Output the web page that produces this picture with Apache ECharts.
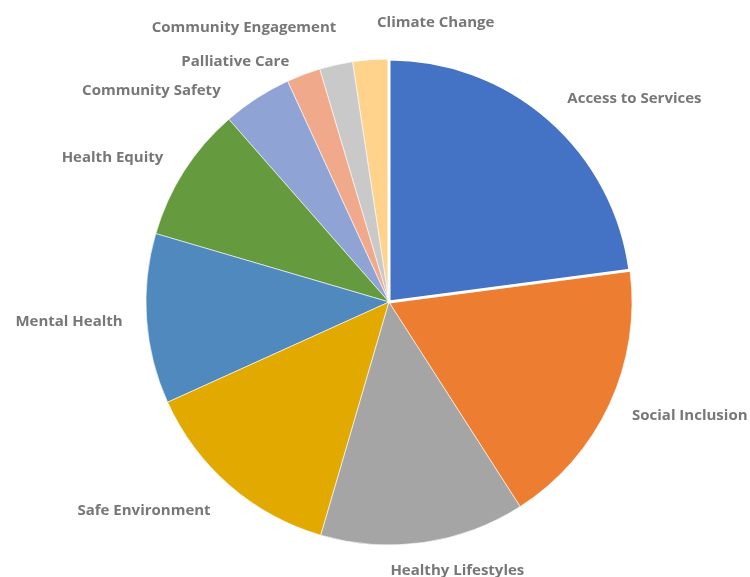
<!DOCTYPE html>
<html>
<head>
<meta charset="utf-8">
<script src="https://cdn.jsdelivr.net/npm/echarts@6/dist/echarts.min.js"></script>
<style>
  html, body { margin: 0; padding: 0; background: #fff; }
  #chart { width: 750px; height: 577px; }
</style>
</head>
<body>
<div id="chart"></div>
<script>
const CATEGORIES = [
  'Access to Services', 'Social Inclusion', 'Healthy Lifestyles', 'Safe Environment',
  'Mental Health', 'Health Equity', 'Community Safety', 'Palliative Care',
  'Community Engagement', 'Climate Change',
];
const VALUES = [22.9, 18.0, 13.6, 13.7, 11.3, 9.0, 4.6, 2.25, 2.2, 2.4];

const COLORS = ['#4472c4', '#ed7d31', '#a5a5a5', '#e2a900', '#4f89be', '#659b3e',
                '#8fa3d5', '#f0aa8b', '#c9c9c9', '#ffd38b'];

// small tweaks so the crowded labels sit where the original put them
const LABEL_SHIFT = [[1, -1], [-1, 0], [30, 2], [-2, 6], [2, 1], [1, 0],
                     [-22, 14], [-5, 12], [6, -12], [67, -11]];

const CX = 389, CY = 302, R = 243, GAP = 26;
const N = VALUES.length;

const total = VALUES.reduce((a, b) => a + b, 0);
const midAngles = [];
let acc = 0;
VALUES.forEach(v => {
  midAngles.push((acc + v / 2) / total * Math.PI * 2);
  acc += v;
});

// fed to the pie in reverse (counter-clockwise) so the first slice is drawn last
// and its white edge stays on top of both neighbours
const data = CATEGORIES.map((name, i) => ({
  name,
  value: VALUES[i],
  itemStyle: i === 0 ? { color: COLORS[i], borderWidth: 3 } : { color: COLORS[i] },
})).reverse();

const chart = echarts.init(document.getElementById('chart'), null, { renderer: 'canvas' });
chart.setOption({
  animation: false,
  backgroundColor: '#fff',
  series: [{
    type: 'pie',
    center: [CX, CY],
    radius: R,
    startAngle: 90,
    clockwise: false,
    avoidLabelOverlap: false,
    itemStyle: { borderColor: '#fff', borderWidth: 0.6 },
    label: {
      show: true,
      position: 'outside',
      color: '#777777',
      fontFamily: 'Open Sans, sans-serif',
      fontWeight: 'bold',
      fontSize: 15,
    },
    labelLine: { show: false },
    labelLayout: p => {
      const k = N - 1 - p.dataIndex;
      const a = midAngles[k];
      const s = Math.sin(a), c = Math.cos(a);
      const sh = LABEL_SHIFT[k];
      return {
        x: CX + (R + GAP) * s + sh[0],
        y: CY - (R + GAP) * c + sh[1],
        align: s > 0.2 ? 'left' : (s < -0.2 ? 'right' : 'center'),
        verticalAlign: 'middle',
      };
    },
    emphasis: { disabled: true },
    data,
  }],
});
</script>
</body>
</html>
